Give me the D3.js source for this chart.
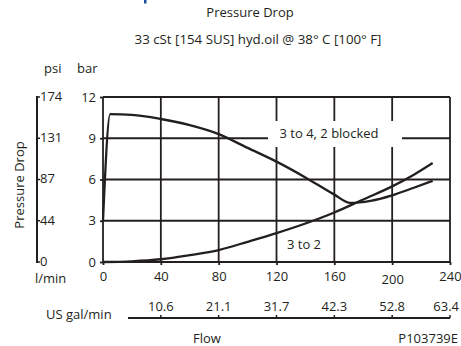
<!DOCTYPE html>
<html><head><meta charset="utf-8">
<script src="https://cdn.jsdelivr.net/npm/d3@7"></script>
<style>
body{margin:0;background:#fff}
svg{display:block}
text{font-family:"Open Sans",sans-serif;fill:#231f20}
</style>
</head><body><svg id="c" width="461" height="346"></svg>
<script>
// ---- data ----
const flowTicks = [0, 40, 80, 120, 160, 200, 240];
const barTicks = [0, 3, 6, 9, 12];
const psiLabels = ["0", "44", "87", "131", "174"];
const galFlows = [40, 80, 120, 160, 200, 240];
const galLabels = ["10.6", "21.1", "31.7", "42.3", "52.8", "63.4"];

// "3 to 4, 2 blocked"
const blockedFlow = [0, 5, 20, 40, 60, 80, 100, 120, 140, 160, 171, 185, 200, 215, 228];
const blockedBar  = [3, 10.75, 10.7, 10.4, 9.95, 9.3, 8.3, 7.3, 6.15, 4.9, 4.3, 4.45, 4.85, 5.4, 5.9];
// "3 to 2"
const t32Flow = [0, 20, 40, 60, 80, 100, 120, 140, 160, 180, 200, 215, 228];
const t32Bar  = [0, 0.05, 0.2, 0.5, 0.87, 1.47, 2.1, 2.8, 3.6, 4.55, 5.5, 6.35, 7.2];

// ---- chart ----
const svg = d3.select("#c");
const ink = "#231f20";
const x = d3.scaleLinear().domain([0, 240]).range([103, 450]);
const y = d3.scaleLinear().domain([0, 12]).range([262, 97]);

// cut-off blue fragment at top
svg.append("rect").attr("x", 144).attr("y", 0).attr("width", 2.5).attr("height", 3.5).attr("fill", "#1f4e9c");

// titles
svg.append("text").attr("x", 250).attr("y", 17).attr("text-anchor", "middle").attr("font-size", 13).text("Pressure Drop");
svg.append("text").attr("x", 258).attr("y", 44).attr("text-anchor", "middle").attr("font-size", 13.3).text("33 cSt [154 SUS] hyd.oil @ 38° C [100° F]");
svg.append("text").attr("x", 44).attr("y", 73).attr("font-size", 13).text("psi");
svg.append("text").attr("x", 77).attr("y", 73).attr("font-size", 13).text("bar");

// grid
const grid = svg.append("g").attr("stroke", ink).attr("stroke-width", 1.8);
grid.selectAll("line.v").data(flowTicks).join("line")
  .attr("x1", d => x(d)).attr("x2", d => x(d))
  .attr("y1", y(12)).attr("y2", y(0));
grid.selectAll("line.h").data(barTicks).join("line")
  .attr("x1", x(0)).attr("x2", x(240))
  .attr("y1", d => y(d)).attr("y2", d => y(d));

// bar axis (left)
const ay = svg.append("g").attr("transform", `translate(${x(0)},0)`)
  .call(d3.axisLeft(y).tickValues(barTicks).tickSize(3).tickPadding(4));
ay.select(".domain").remove();
ay.selectAll("line").attr("stroke", ink).attr("stroke-width", 1.8);
ay.selectAll("text").attr("font-size", 13).attr("font-family", "Open Sans").attr("fill", ink);

// flow axis (bottom)
const ax = svg.append("g").attr("transform", `translate(0,${y(0)})`)
  .call(d3.axisBottom(x).tickValues(flowTicks).tickSize(3).tickPadding(6));
ax.select(".domain").remove();
ax.selectAll("line").attr("stroke", ink).attr("stroke-width", 1.8);
ax.selectAll("text").attr("font-size", 13).attr("font-family", "Open Sans").attr("fill", ink)
  .attr("dy", d => d === 200 ? "1.0em" : "0.8em");
svg.append("text").attr("x", 35).attr("y", 283).attr("font-size", 13).text("l/min");

// psi axis
const yPsi = d3.scaleOrdinal().domain(psiLabels).range(barTicks.map(b => y(b)));
const pg = svg.append("g").attr("transform", "translate(37,0)");
pg.append("line").attr("x1", 0).attr("x2", 0).attr("y1", y(12) - 1).attr("y2", y(0) + 1)
  .attr("stroke", ink).attr("stroke-width", 2);
pg.selectAll("line.t").data(psiLabels).join("line").attr("class", "t")
  .attr("x1", 0).attr("x2", 3).attr("y1", d => yPsi(d)).attr("y2", d => yPsi(d))
  .attr("stroke", ink).attr("stroke-width", 1.5);
pg.selectAll("text").data(psiLabels).join("text")
  .attr("x", 3).attr("y", d => yPsi(d)).attr("dy", "0.3em").attr("font-size", 13).text(d => d);

svg.append("text").attr("transform", "translate(24,185) rotate(-90)")
  .attr("text-anchor", "middle").attr("font-size", 13).text("Pressure Drop");

// gal/min axis
const gy = 318;
svg.append("line").attr("x1", 128).attr("x2", x(240)).attr("y1", gy).attr("y2", gy)
  .attr("stroke", ink).attr("stroke-width", 2);
svg.selectAll("line.gt").data(galFlows).join("line").attr("class", "gt")
  .attr("x1", d => x(d)).attr("x2", d => x(d)).attr("y1", gy).attr("y2", gy - 3)
  .attr("stroke", ink).attr("stroke-width", 1.5);
svg.selectAll("text.gl").data(galFlows).join("text").attr("class", "gl")
  .attr("x", (d, i) => i === galFlows.length - 1 ? 459 : x(d))
  .attr("y", 311)
  .attr("text-anchor", (d, i) => i === galFlows.length - 1 ? "end" : "middle")
  .attr("font-size", 13)
  .text((d, i) => galLabels[i]);
svg.append("text").attr("x", 46).attr("y", 319).attr("font-size", 13).text("US gal/min");
svg.append("text").attr("x", 207).attr("y", 343).attr("text-anchor", "middle").attr("font-size", 13).text("Flow");
svg.append("text").attr("x", 458).attr("y", 343).attr("text-anchor", "end").attr("font-size", 13).text("P103739E");

// label box for "3 to 4, 2 blocked"
svg.append("rect").attr("x", 268).attr("y", 121).attr("width", 134).attr("height", 26).attr("fill", "#fff");
svg.append("text").attr("x", 329).attr("y", 138).attr("text-anchor", "middle").attr("font-size", 13).text("3 to 4, 2 blocked");
svg.append("text").attr("x", 304).attr("y", 249).attr("text-anchor", "middle").attr("font-size", 13).text("3 to 2");

// curves
const line = d3.line().x(d => x(d[0])).y(d => y(d[1])).curve(d3.curveMonotoneX);
const series = [
  blockedFlow.map((f, i) => [f, blockedBar[i]]),
  t32Flow.map((f, i) => [f, t32Bar[i]])
];
svg.selectAll("path.s").data(series).join("path").attr("class", "s")
  .attr("d", line).attr("fill", "none").attr("stroke", ink).attr("stroke-width", 2.3)
  .attr("stroke-linejoin", "round");
</script>
</body></html>
